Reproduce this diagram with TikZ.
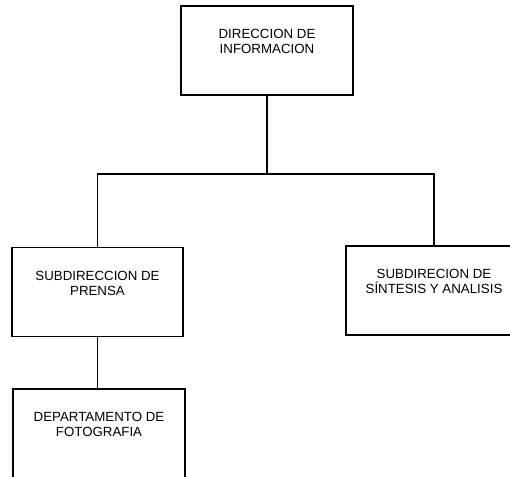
\documentclass[tikz,border=0pt]{standalone}
\usepackage{fontspec}
\setmainfont{Liberation Sans}
\usetikzlibrary{positioning}
\tikzset{
  box/.style={draw, line width=1.6pt, minimum width=#1, minimum height=89pt, inner sep=0pt},
  boxtext/.style={anchor=north, inner sep=0pt, align=center, yshift=-24pt,
    font=\fontsize{13.3}{15}\selectfont, execute at begin node=\vphantom{Í}},
  link/.style={line width=1.6pt}
}

\begin{document}
\begin{tikzpicture}[x=1pt,y=-1pt]
  \useasboundingbox (0,0) rectangle (510,476);
  \clip (0,0) rectangle (510,476);

  % Boxes
  \node[box=172pt, label={[boxtext]north:{DIRECCION DE\\INFORMACION}}] (dir) at (267,50.5) {};
  \node[box=171pt, label={[boxtext]north:{SUBDIRECCION DE\\PRENSA}}] (prensa) at (97.5,292) {};
  \node[box=176pt, label={[boxtext]north:{SUBDIRECION DE\\SÍNTESIS Y ANALISIS}}] (sintesis) at (434,290.5) {};
  \node[box=172pt, label={[boxtext]north:{DEPARTAMENTO DE\\FOTOGRAFIA}}] (foto) at (99,433.5) {};

  % Connectors
  \coordinate (bus) at (264,174);
  \draw[link] (dir.south) -- (dir.south |- bus);
  \draw[link] (prensa.north) -- (prensa.north |- bus) -- (sintesis.north |- bus) -- (sintesis.north);
  \draw[link] (prensa.south) -- (prensa.south |- foto.north);
\end{tikzpicture}
\end{document}
